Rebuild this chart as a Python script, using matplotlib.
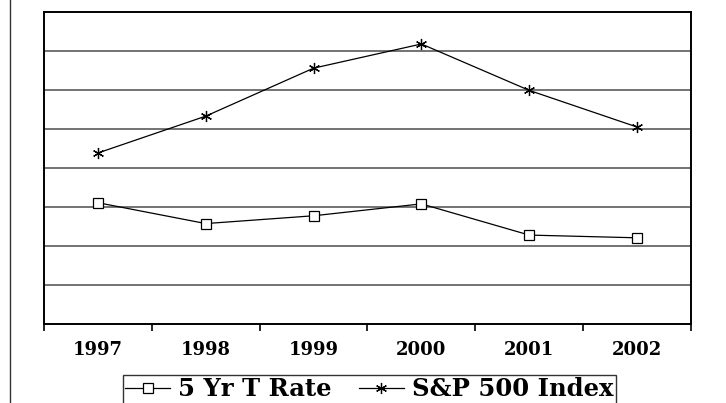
import matplotlib.pyplot as plt
from matplotlib.lines import Line2D
import numpy as np

# data
years = ["1997", "1998", "1999", "2000", "2001", "2002"]
t_rate = [6.22, 5.15, 5.55, 6.16, 4.56, 4.42]          # 5 yr treasury, %
sp500 = [8.77, 10.66, 13.12, 14.36, 11.98, 10.10]      # S&P 500, hundreds

fig = plt.figure(figsize=(7.26, 4.03), dpi=100)
ax = fig.add_axes([44 / 726, 1 - 324 / 403, 647 / 726, 312 / 403])

x = np.arange(len(years))
ax.plot(x, t_rate, color="black", lw=0.9, marker="s", ms=6.5,
        mfc="white", mec="black", mew=0.9, label="5 Yr T Rate", zorder=3)
ax.plot(x, sp500, color="black", lw=0.9, marker=(6, 2, 0), ms=8,
        mec="black", mew=0.9, label="S&P 500 Index", zorder=3)

ax.set_xlim(-0.5, 5.5)
ax.set_ylim(0, 16)
ax.set_yticks(np.arange(2, 16, 2))
ax.yaxis.grid(True, color="#4d4d4d", lw=1.1)
ax.set_axisbelow(True)
ax.tick_params(axis="y", length=0, labelleft=False)

# category labels between boundary ticks
ax.set_xticks(np.arange(-0.5, 6, 1))
ax.set_xticklabels([])
ax.set_xticks(x, minor=True)
ax.set_xticklabels(years, minor=True, fontfamily="DejaVu Serif",
                   fontweight="bold", fontsize=13)
ax.tick_params(axis="x", which="major", direction="out", length=5, width=1.2)
ax.tick_params(axis="x", which="minor", length=0, pad=12)

for s in ax.spines.values():
    s.set_linewidth(1.4)
    s.set_color("black")

# vertical rule at the left edge of the figure
fig.add_artist(Line2D([10 / 726, 10 / 726], [0, 1], color="#333333", lw=1.0))

leg = fig.legend(loc="upper left", bbox_to_anchor=(123 / 726, 1 - 375 / 403),
                 ncol=2, frameon=True, fancybox=False, edgecolor="black",
                 prop={"family": "DejaVu Serif", "weight": "bold", "size": 17.5},
                 handlelength=1.85, handletextpad=0.33, columnspacing=1.1,
                 borderpad=0.1, borderaxespad=0)
leg.get_frame().set_linewidth(1.0)

fig.savefig("out.png", dpi=100)
